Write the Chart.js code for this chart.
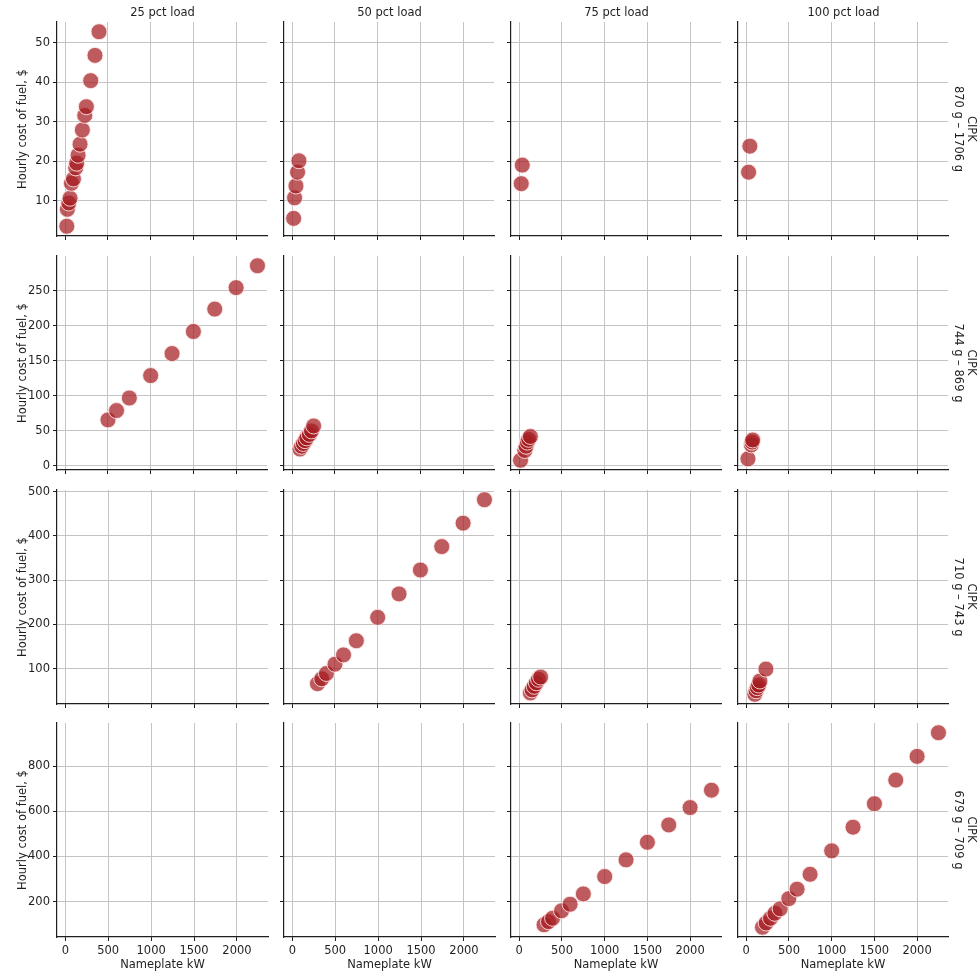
<!DOCTYPE html>
<html>
<head>
<meta charset="utf-8">
<script src="https://cdn.jsdelivr.net/npm/chart.js@4.4.1/dist/chart.umd.min.js"></script>
<style>
  html, body { margin:0; padding:0; background:#fff; width:980px; height:974px; overflow:hidden; }
  #wrap { position:relative; width:980px; height:974px; font-family:"DejaVu Sans", sans-serif; color:#1f1f1f; }
  canvas { position:absolute; }
  .coltitle { position:absolute; font-size:11.5px; transform:translate(-50%,-50%); white-space:nowrap; }
  .rowlabel { position:absolute; font-size:11.5px; line-height:13px; writing-mode:vertical-rl; text-align:center; transform:translate(-50%,-50%); white-space:nowrap; }
</style>
</head>
<body>
<div id="wrap"></div>
<script>
// ---------------- DATA ----------------
const loads = ['25 pct load', '50 pct load', '75 pct load', '100 pct load'];
const bandGroup = 'CIPK';
const bands = ['870 g \u2013 1706 g', '744 g \u2013 869 g', '710 g \u2013 743 g', '679 g \u2013 709 g'];

const xTicks = [0, 500, 1000, 1500, 2000];
const yTicksBand1 = [10, 20, 30, 40, 50];
const yTicksBand2 = [0, 50, 100, 150, 200, 250];
const yTicksBand3 = [100, 200, 300, 400, 500];
const yTicksBand4 = [200, 400, 600, 800];

// band 1: 870 g – 1706 g
const kw25_b1   = [18, 25, 41, 56, 72, 96, 122, 134, 150, 173, 200, 228, 247, 298, 348, 395];
const cost25_b1 = [3.5, 7.8, 9.4, 10.6, 14.4, 15.5, 18.3, 19.5, 21.5, 24.3, 27.9, 31.6, 33.8, 40.4, 46.8, 52.8];
const kw50_b1   = [16, 27, 43, 62, 78];
const cost50_b1 = [5.5, 10.7, 13.7, 17.2, 20.1];
const kw75_b1   = [23, 35];
const cost75_b1 = [14.3, 19.0];
const kw100_b1   = [27, 42];
const cost100_b1 = [17.2, 23.8];

// band 2: 744 g – 869 g
const kw25_b2   = [500, 600, 750, 1000, 1250, 1500, 1750, 2000, 2250];
const cost25_b2 = [65.7, 79, 97, 129, 160.5, 192, 224, 254.7, 286];
const kw50_b2   = [90, 110, 130, 150, 170, 200, 225, 250];
const cost50_b2 = [24, 28, 32, 36, 40, 45, 50, 57];
const kw75_b2   = [15, 65, 80, 95, 110, 130];
const cost75_b2 = [8, 22, 28, 34, 38, 42];
const kw100_b2   = [20, 60, 68, 75];
const cost100_b2 = [10, 30, 34, 37];

// band 3: 710 g – 743 g
const kw25_b3   = [];
const cost25_b3 = [];
const kw50_b3   = [295, 345, 400, 500, 600, 750, 1000, 1250, 1500, 1750, 2000, 2250];
const cost50_b3 = [66, 77, 89, 110, 131, 163, 216, 269, 323, 376, 429, 482];
const kw75_b3   = [130, 150, 175, 200, 225, 250];
const cost75_b3 = [45, 52, 60, 68, 76, 81];
const kw100_b3   = [100, 115, 130, 145, 160, 230];
const cost100_b3 = [42, 50, 57, 63, 72, 99];

// band 4: 679 g – 709 g
const kw25_b4   = [];
const cost25_b4 = [];
const kw50_b4   = [];
const cost50_b4 = [];
const kw75_b4   = [290, 342, 390, 495, 595, 750, 1000, 1250, 1500, 1750, 2000, 2250];
const cost75_b4 = [97, 111, 126, 159, 188, 234, 311, 385, 463, 540, 617, 694];
const kw100_b4   = [190, 233, 284, 335, 397, 498, 595, 747, 1000, 1250, 1500, 1750, 2000, 2250];
const cost100_b4 = [86, 105, 126, 148, 168, 213, 255, 321, 425, 530, 634, 739, 844, 949];

// ---------------- BUILD ----------------
const grid = [
  [[kw25_b1, cost25_b1], [kw50_b1, cost50_b1], [kw75_b1, cost75_b1], [kw100_b1, cost100_b1]],
  [[kw25_b2, cost25_b2], [kw50_b2, cost50_b2], [kw75_b2, cost75_b2], [kw100_b2, cost100_b2]],
  [[kw25_b3, cost25_b3], [kw50_b3, cost50_b3], [kw75_b3, cost75_b3], [kw100_b3, cost100_b3]],
  [[kw25_b4, cost25_b4], [kw50_b4, cost50_b4], [kw75_b4, cost75_b4], [kw100_b4, cost100_b4]]
];
const yTicksRows = [yTicksBand1, yTicksBand2, yTicksBand3, yTicksBand4];

function padRange(vals) {
  const lo = Math.min(...vals), hi = Math.max(...vals);
  const m = (hi - lo) * 0.05;
  return [lo - m, hi + m];
}
const allKw = grid.flat().flatMap(p => p[0]);
const [xMin, xMax] = padRange(allKw);
const yRanges = grid.map(row => padRange(row.flatMap(p => p[1])));

// layout
const colLefts = [57, 284, 511, 738];
const rowTops = [22, 256, 490, 723];
const PW = 211, PH = 214;
const L = 57, T = 16, R = 8, B = 36;

const wrap = document.getElementById('wrap');
const FONT = { family: 'DejaVu Sans', size: 11.5 };
const INK = '#1f1f1f';
const GRID = '#c4c4c4';

for (let r = 0; r < 4; r++) {
  for (let c = 0; c < 4; c++) {
    const cv = document.createElement('canvas');
    cv.width = L + PW + R; cv.height = T + PH + B;
    cv.style.left = (colLefts[c] - L) + 'px';
    cv.style.top = (rowTops[r] - T) + 'px';
    cv.style.width = cv.width + 'px'; cv.style.height = cv.height + 'px';
    wrap.appendChild(cv);
    const [kw, cost] = grid[r][c];
    const pts = kw.map((x, i) => ({ x: x, y: cost[i] }));
    const yt = yTicksRows[r];
    new Chart(cv, {
      type: 'scatter',
      data: { datasets: [{
        data: pts,
        backgroundColor: 'rgba(165,28,32,0.72)',
        borderColor: 'rgba(255,235,235,0.85)',
        borderWidth: 1,
        pointRadius: 8,
        pointHoverRadius: 8
      }]},
      options: {
        responsive: false, animation: false, devicePixelRatio: 1, events: [],
        layout: { padding: { top: T, right: R, left: 0, bottom: 0 } },
        plugins: { legend: { display: false }, tooltip: { enabled: false } },
        scales: {
          x: {
            type: 'linear', min: xMin, max: xMax,
            afterBuildTicks: s => { s.ticks = xTicks.map(v => ({ value: v })); },
            afterFit: s => { s.height = B; },
            grid: { color: GRID, lineWidth: 1, tickLength: 4, tickColor: INK, tickWidth: 1 },
            border: { display: true, color: INK, width: 1.2 },
            ticks: { display: r === 3, autoSkip: false, maxRotation: 0, font: FONT, color: INK, padding: 3, callback: v => String(v) },
            title: { display: r === 3, text: 'Nameplate kW', font: FONT, color: INK, padding: { top: 0, bottom: 1 } }
          },
          y: {
            type: 'linear', min: yRanges[r][0], max: yRanges[r][1],
            afterBuildTicks: s => { s.ticks = yt.map(v => ({ value: v })); },
            afterFit: s => { s.width = L; },
            grid: { color: GRID, lineWidth: 1, tickLength: 4, tickColor: INK, tickWidth: 1 },
            border: { display: true, color: INK, width: 1.2 },
            ticks: { display: c === 0, autoSkip: false, font: FONT, color: INK, padding: 3, callback: v => String(v) },
            title: { display: c === 0, text: 'Hourly cost of fuel, $', font: FONT, color: INK, padding: { top: 16, bottom: 0 } }
          }
        }
      }
    });
  }
}

// column titles
loads.forEach((t, c) => {
  const d = document.createElement('div');
  d.className = 'coltitle';
  d.textContent = t;
  d.style.left = (colLefts[c] + PW / 2) + 'px';
  d.style.top = '12px';
  wrap.appendChild(d);
});
// row labels
bands.forEach((b, r) => {
  const d = document.createElement('div');
  d.className = 'rowlabel';
  d.innerHTML = bandGroup + '<br>' + b;
  d.style.left = '965px';
  d.style.top = (rowTops[r] + PH / 2) + 'px';
  wrap.appendChild(d);
});
</script>
</body>
</html>
